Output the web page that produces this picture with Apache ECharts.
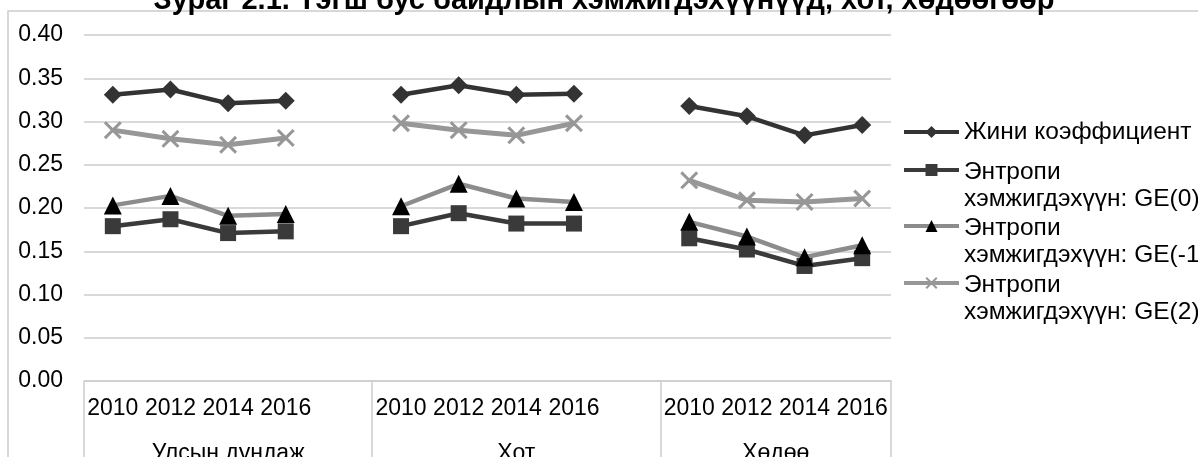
<!DOCTYPE html>
<html>
<head>
<meta charset="utf-8">
<script src="https://cdn.jsdelivr.net/npm/echarts@6/dist/echarts.min.js"></script>
<style>
  html, body { margin: 0; padding: 0; background: #fff; }
  #chart { width: 1198px; height: 457px; }
</style>
</head>
<body>
<div id="chart"></div>
<script>
// categories
const years = ['2010', '2012', '2014', '2016'];
const groupNames = ['Улсын дундаж', 'Хот', 'Хөдөө'];
const yTicks = [0, 0.05, 0.10, 0.15, 0.20, 0.25, 0.30, 0.35, 0.40];

const seriesNames = [
  'Жини коэффициент',
  'Энтропи хэмжигдэхүүн: GE(0)',
  'Энтропи хэмжигдэхүүн: GE(-1)',
  'Энтропи хэмжигдэхүүн: GE(2)'
];

// values per group (Улсын дундаж, Хот, Хөдөө), years 2010..2016
const gini = [
  [0.331, 0.337, 0.321, 0.324],
  [0.331, 0.342, 0.331, 0.332],
  [0.318, 0.306, 0.284, 0.296]
];
const ge0 = [
  [0.179, 0.187, 0.171, 0.173],
  [0.179, 0.194, 0.182, 0.182],
  [0.165, 0.152, 0.133, 0.142]
];
const geMinus1 = [
  [0.203, 0.214, 0.191, 0.193],
  [0.202, 0.228, 0.211, 0.207],
  [0.184, 0.167, 0.143, 0.157]
];
const ge2 = [
  [0.290, 0.280, 0.273, 0.281],
  [0.298, 0.290, 0.284, 0.298],
  [0.232, 0.209, 0.207, 0.211]
];

// x categories: years of every group, with an empty slot between groups
const categories = [];
const groupStarts = [];
groupNames.forEach((g, gi) => {
  groupStarts.push(categories.length);
  years.forEach(y => categories.push(y));
  if (gi < groupNames.length - 1) categories.push('');
});
const slotCount = categories.length;
const groupEnds = groupStarts.slice(1).concat(slotCount);
const groupCenters = groupStarts.map((s, i) => (s + groupEnds[i]) / 2);

// series values laid out on the categories, null in the gaps
function layout(values) {
  const out = [];
  values.forEach((vals, gi) => {
    vals.forEach(v => out.push(v));
    if (gi < values.length - 1) out.push(null);
  });
  return out;
}

const font = 'Liberation Sans, Arial, sans-serif';
const gridColor = '#cdcdcd';
const crossPath = 'path://M0,1.2L1.2,0L5,3.8L8.8,0L10,1.2L6.2,5L10,8.8L8.8,10L5,6.2L1.2,10L0,8.8L3.8,5Z';

const styles = [
  {symbol: 'diamond', size: 18, line: '#333333', mark: '#333333', width: 4.5},
  {symbol: 'rect', size: 16, line: '#3a3a3a', mark: '#3a3a3a', width: 4.5},
  {symbol: 'triangle', size: 18, line: '#8c8c8c', mark: '#000000', width: 4.5},
  {symbol: crossPath, size: 18, line: '#979797', mark: '#979797', width: 5}
];
const allData = [gini, ge0, geMinus1, ge2];

// legend: first text line sits level with the icon
const legendFont = 24.5;
const legendTops = [117.75, 128.25, 184.25, 241.25];

const chart = echarts.init(document.getElementById('chart'));

const option = {
  animation: false,
  textStyle: {fontFamily: font},
  title: {
    text: 'Зураг 2.1. Тэгш бус байдлын хэмжигдэхүүнүүд, хот, хөдөөгөөр',
    left: 604,
    textAlign: 'center',
    top: -14,
    padding: 0,
    textStyle: {fontFamily: font, fontSize: 29, fontWeight: 'bold', color: '#000'}
  },
  graphic: [{
    type: 'rect',
    z: -1,
    shape: {x: 8, y: 11, width: 1300, height: 600},
    style: {fill: 'none', stroke: '#cbcbcb', lineWidth: 1.5}
  }],
  legend: seriesNames.map((name, i) => ({
    data: [name],
    orient: 'vertical',
    left: 902,
    top: legendTops[i],
    padding: 0,
    itemGap: 0,
    itemWidth: 55,
    itemHeight: 15,
    selectedMode: false,
    lineStyle: {width: 4},
    formatter: n => {
      if (i === 0) return n;
      const parts = n.split(' ');
      return '{a|' + parts[0] + '}\n{b|' + parts.slice(1).join(' ') + '}';
    },
    textStyle: {
      fontFamily: font, fontSize: legendFont, color: '#000', lineHeight: 28.5,
      rich: {
        a: {fontFamily: font, fontSize: legendFont, color: '#000', lineHeight: 56, verticalAlign: 'bottom'},
        b: {fontFamily: font, fontSize: legendFont, color: '#000', lineHeight: 27.5, verticalAlign: 'bottom'}
      }
    }
  })),
  grid: {left: 84, right: 307, top: 35, bottom: 76, outerBoundsMode: 'none'},
  xAxis: [
    {
      type: 'category',
      data: categories,
      boundaryGap: true,
      axisLine: {show: false},
      axisTick: {show: false},
      axisLabel: {interval: 0, fontFamily: font, fontSize: 23, color: '#000', margin: 16}
    },
    {
      type: 'value',
      min: 0,
      max: slotCount,
      position: 'bottom',
      axisLine: {show: true, lineStyle: {color: gridColor, width: 1.5}},
      axisTick: {
        show: true, customValues: groupStarts.concat(slotCount), length: 90,
        lineStyle: {color: gridColor, width: 1.5}
      },
      axisLabel: {
        customValues: groupCenters,
        formatter: v => groupNames[groupCenters.indexOf(v)] || '',
        fontFamily: font, fontSize: 23, color: '#000', margin: 61
      },
      splitLine: {show: false}
    }
  ],
  yAxis: {
    type: 'value',
    min: yTicks[0],
    max: yTicks[yTicks.length - 1],
    interval: 0.05,
    axisLine: {show: false},
    axisTick: {show: false},
    axisLabel: {formatter: v => v.toFixed(2), fontFamily: font, fontSize: 23, color: '#000', margin: 21},
    splitLine: {lineStyle: {color: gridColor, width: 1.5}}
  },
  series: seriesNames.map((name, i) => ({
    name: name,
    type: 'line',
    xAxisIndex: 0,
    data: layout(allData[i]),
    connectNulls: false,
    symbol: styles[i].symbol,
    symbolSize: styles[i].size,
    showAllSymbol: true,
    lineStyle: {color: styles[i].line, width: styles[i].width},
    itemStyle: {color: styles[i].mark},
    emphasis: {disabled: true}
  }))
};

chart.setOption(option);
</script>
</body>
</html>
